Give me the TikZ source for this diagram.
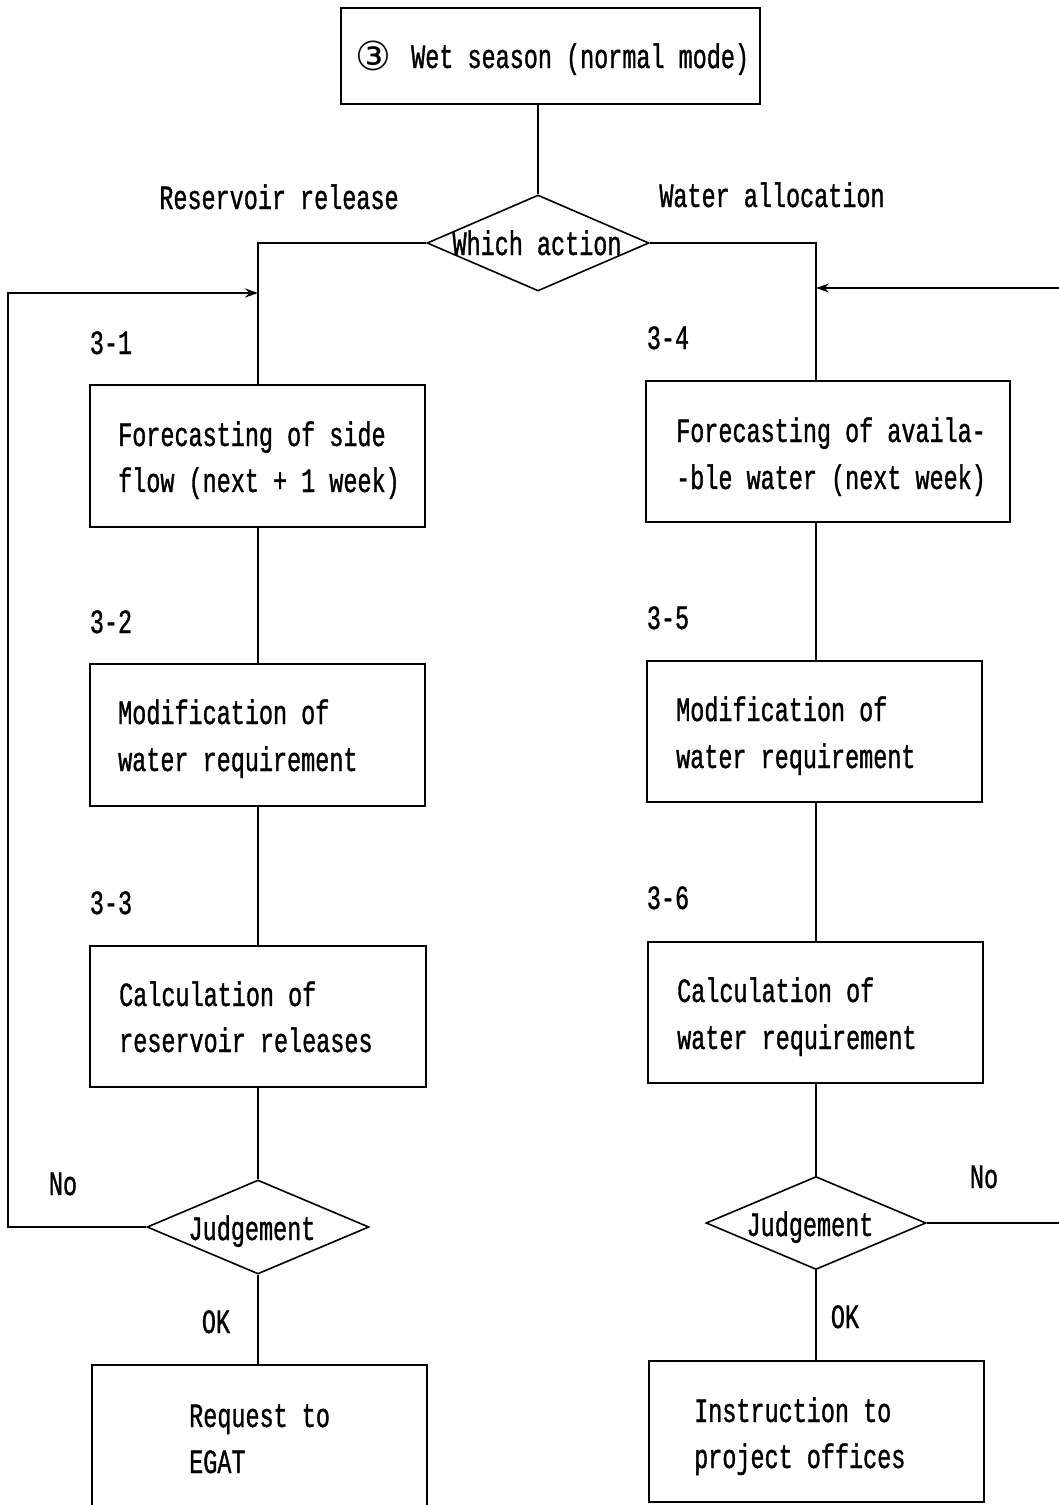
\documentclass[tikz,border=0pt]{standalone}
\usepackage{fontspec}
\setmainfont{Liberation Mono}[FakeStretch=0.69,FakeBold=1]
\newfontfamily\symfont{DejaVu Sans}
\usetikzlibrary{shapes.geometric,arrows.meta}

\begin{document}
\begin{tikzpicture}[x=1pt,y=-1pt,
  every node/.style={font=\fontsize{34}{46}\selectfont, inner sep=0pt},
  flow/.style={line width=1.6pt},
  box/.style={draw, line width=1.6pt, minimum width=335pt, minimum height=142pt},
  choice/.style={draw, diamond, line width=1.6pt, minimum width=222pt, minimum height=95pt},
  txt/.style={anchor=base west},
  ctxt/.style={anchor=base},
  back/.style={flow, -{Stealth[length=13pt,width=9pt]}}
]
\useasboundingbox (0,0) rectangle (1059,1505);
\clip (0,0) rectangle (1059,1505);

% column axes
\coordinate (lc) at (258,0);
\coordinate (rc) at (816,0);

% start box and branching decision
\node[box, minimum width=419pt, minimum height=96pt] (top) at (550.5,56) {};
\node[txt] (topnum) at (355,70) {\symfont\fontsize{40}{40}\selectfont ③};
\node[txt] (toptxt) at (411,68) {Wet season (normal mode)};
\node[choice, minimum height=96pt] (act) at (538,243) {};
\node[ctxt] (acttxt) at (537,255) {Which action};
\node[ctxt] (rel) at (279,209) {Reservoir release};
\node[ctxt] (alloc) at (772,207) {Water allocation};

% reservoir release branch
\node[ctxt] (n31) at (111,354) {3-1};
\node[box] (b31) at (257.5,456) {};
\node[txt] (t31a) at (118,446) {Forecasting of side};
\node[txt] (t31b) at (118,492) {flow (next + 1 week)};

\node[ctxt] (n32) at (111,633) {3-2};
\node[box] (b32) at (257.5,735) {};
\node[txt] (t32a) at (118,724) {Modification of};
\node[txt] (t32b) at (118,771) {water requirement};

\node[ctxt] (n33) at (111,914) {3-3};
\node[box, minimum width=336pt, minimum height=141pt] (b33) at (258,1016.5) {};
\node[txt] (t33a) at (119,1006) {Calculation of};
\node[txt] (t33b) at (119,1052) {reservoir releases};

\node[choice, minimum height=94pt] (j1) at (258,1227) {};
\node[ctxt] (j1txt) at (252,1240) {Judgement};
\node[ctxt] (no1) at (63,1195) {No};
\node[ctxt] (ok1) at (216,1333) {OK};

\node[box] (req) at (259.5,1436) {};
\node[txt] (treqa) at (189,1427) {Request to};
\node[txt] (treqb) at (189,1473) {EGAT};

% water allocation branch
\node[ctxt] (n34) at (668,349) {3-4};
\node[box, minimum width=364pt, minimum height=141pt] (b34) at (828,451.5) {};
\node[txt] (t34a) at (676,442) {Forecasting of availa-};
\node[txt] (t34b) at (676,489) {-ble water (next week)};

\node[ctxt] (n35) at (668,629) {3-5};
\node[box, minimum height=141pt] (b35) at (814.5,731.5) {};
\node[txt] (t35a) at (676,721) {Modification of};
\node[txt] (t35b) at (676,768) {water requirement};

\node[ctxt] (n36) at (668,909) {3-6};
\node[box, minimum height=141pt] (b36) at (815.5,1012.5) {};
\node[txt] (t36a) at (677,1002) {Calculation of};
\node[txt] (t36b) at (677,1049) {water requirement};

\node[choice, minimum width=220pt, minimum height=93pt] (j2) at (816,1223) {};
\node[ctxt] (j2txt) at (810,1236) {Judgement};
\node[ctxt] (no2) at (984,1188) {No};
\node[ctxt] (ok2) at (845,1328) {OK};

\node[box, minimum height=141pt] (ins) at (816.5,1431.5) {};
\node[txt] (tinsa) at (694,1422) {Instruction to};
\node[txt] (tinsb) at (694,1468) {project offices};

% connectors
\draw[flow] (act.north |- top.south) -- (act.north);
\draw[flow] (act.west) -| (lc |- b31.north);
\draw[flow] (act.east) -| (rc |- b34.north);

\draw[flow] (lc |- b31.south) -- (lc |- b32.north);
\draw[flow] (lc |- b32.south) -- (lc |- b33.north);
\draw[flow] (lc |- b33.south) -- (j1.north);
\draw[flow] (j1.south) -- (lc |- req.north);

\draw[flow] (rc |- b34.south) -- (rc |- b35.north);
\draw[flow] (rc |- b35.south) -- (rc |- b36.north);
\draw[flow] (rc |- b36.south) -- (j2.north);
\draw[flow] (j2.south) -- (rc |- ins.north);

% loops back when the judgement fails
\coordinate (lout) at (8,293);
\draw[back] (j1.west) -| (lout) -- (lc |- lout);
\coordinate (rout) at (1075,288);
\draw[back] (j2.east) -| (rout) -- (rc |- rout);
\end{tikzpicture}
\end{document}
